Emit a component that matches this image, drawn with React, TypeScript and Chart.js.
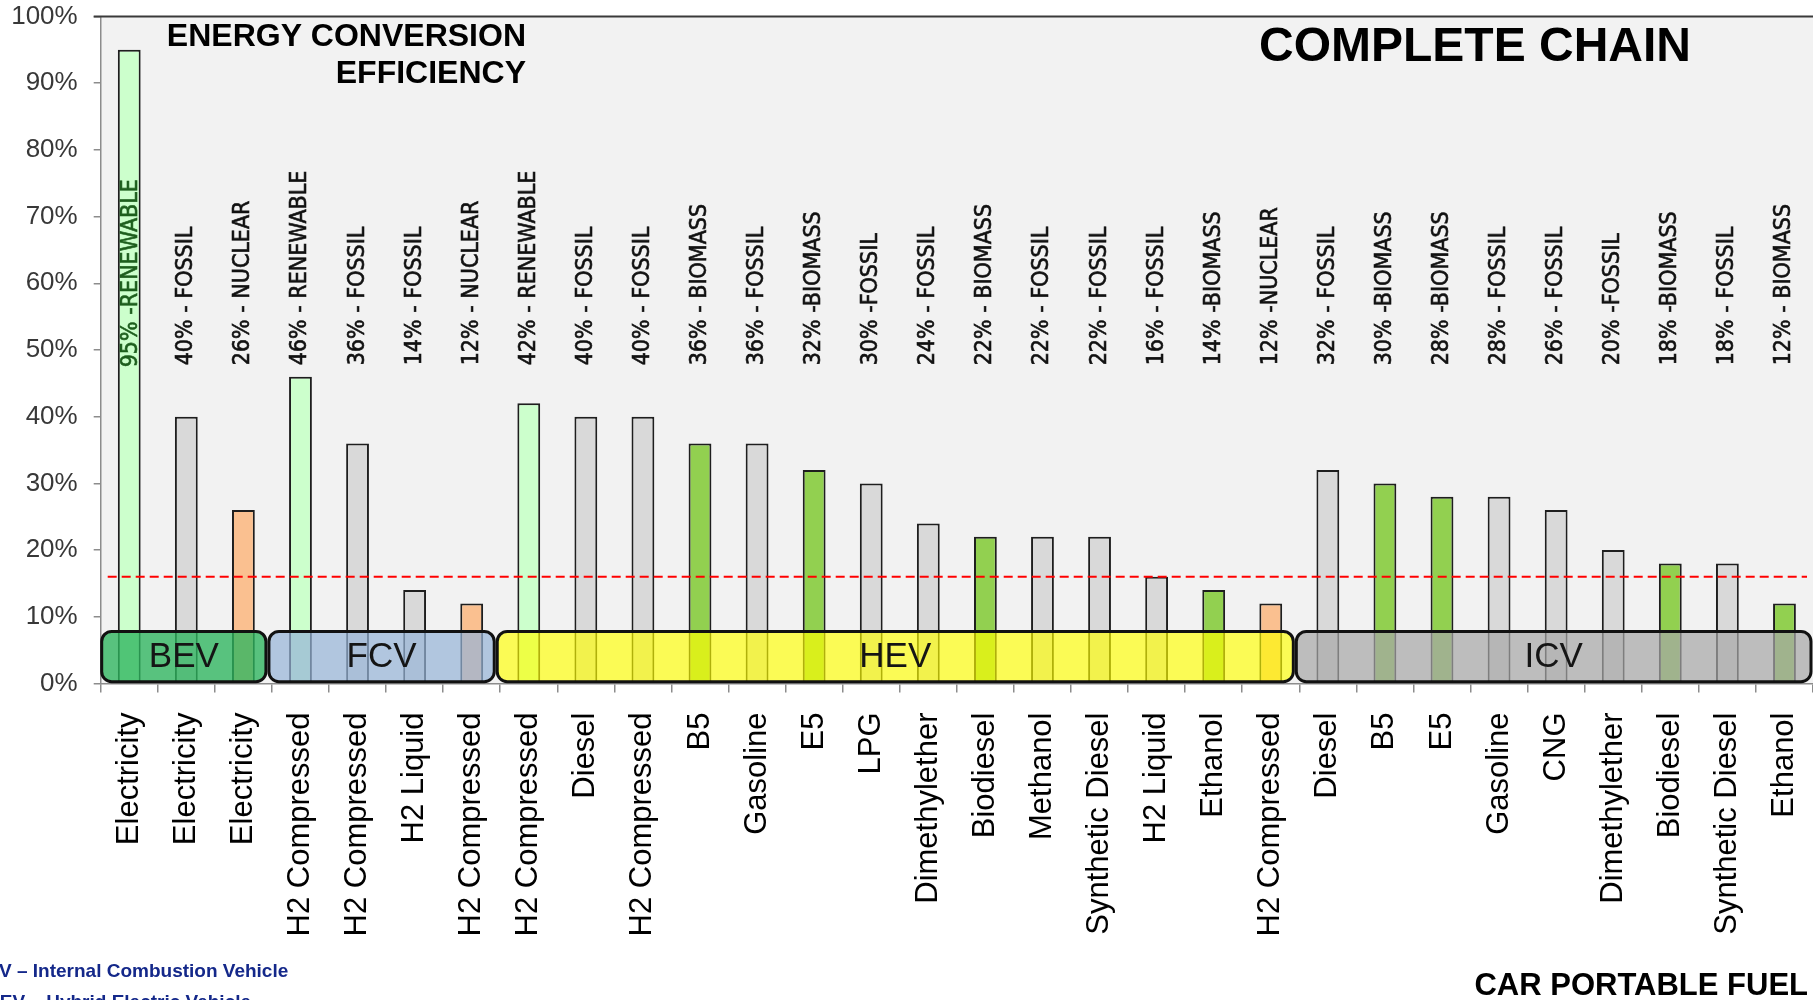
import { useEffect, useRef } from "react";
import { Chart, registerables } from "chart.js";

Chart.register(...registerables);

// Car portable fuels, grouped by vehicle type (left to right)
const fuels = [
  "Electricity", "Electricity", "Electricity",
  "H2 Compressed", "H2 Compressed", "H2 Liquid", "H2 Compressed",
  "H2 Compressed", "Diesel", "H2 Compressed", "B5", "Gasoline", "E5", "LPG",
  "Dimethylether", "Biodiesel", "Methanol", "Synthetic Diesel", "H2 Liquid", "Ethanol", "H2 Compressed",
  "Diesel", "B5", "E5", "Gasoline", "CNG", "Dimethylether", "Biodiesel", "Synthetic Diesel", "Ethanol",
];

// Complete-chain energy conversion efficiency, percent
const efficiency = [
  95, 40, 26,
  46, 36, 14, 12,
  42, 40, 40, 36, 36, 32, 30, 24, 22, 22, 22, 16, 14, 12,
  32, 30, 28, 28, 26, 20, 18, 18, 12,
];

// Primary energy source of each chain
const sources = [
  "RENEWABLE", "FOSSIL", "NUCLEAR",
  "RENEWABLE", "FOSSIL", "FOSSIL", "NUCLEAR",
  "RENEWABLE", "FOSSIL", "FOSSIL", "BIOMASS", "FOSSIL", "BIOMASS", "FOSSIL",
  "FOSSIL", "BIOMASS", "FOSSIL", "FOSSIL", "FOSSIL", "BIOMASS", "NUCLEAR",
  "FOSSIL", "BIOMASS", "BIOMASS", "FOSSIL", "FOSSIL", "FOSSIL", "BIOMASS", "FOSSIL", "BIOMASS",
];

// Separator used between the value and the source in each bar note
const noteSeparators = [
  "-", "- ", "- ",
  "- ", "- ", "- ", "- ",
  "- ", "- ", "- ", "- ", "- ", "-", "-",
  "- ", "- ", "- ", "- ", "- ", "-", "-",
  "- ", "-", "-", "- ", "- ", "-", "-", "- ", "- ",
];

// Vehicle families and how many fuels each one covers
const vehicleGroups = ["BEV", "FCV", "HEV", "ICV"];
const groupSizes = [3, 4, 14, 9];

const yTickValues = [0, 10, 20, 30, 40, 50, 60, 70, 80, 90, 100];
const referenceLevel = 16;

const sourceColors: Record<string, string> = {
  RENEWABLE: "#ccffcc",
  FOSSIL: "#d9d9d9",
  NUCLEAR: "#fac090",
  BIOMASS: "#92d050",
};

const groupFills: Record<string, string> = {
  BEV: "rgba(45,181,93,0.78)",
  FCV: "rgba(149,179,215,0.7)",
  HEV: "rgba(255,255,0,0.65)",
  ICV: "rgba(166,166,166,0.7)",
};

const SANS = '"Liberation Sans", Arial, Helvetica, sans-serif';
const NARROW = '"Liberation Sans Narrow", "Arial Narrow", "DejaVu Sans Condensed", "Liberation Sans", sans-serif';

const decorations = {
  id: "decorations",
  beforeDraw(chart: any) {
    const { ctx, chartArea: a } = chart;
    ctx.save();
    ctx.fillStyle = "#ffffff";
    ctx.fillRect(0, 0, chart.width, chart.height);
    ctx.fillStyle = "#f2f2f2";
    ctx.fillRect(a.left, a.top, chart.width - a.left, a.bottom - a.top);
    ctx.restore();
  },
  afterDatasetsDraw(chart: any) {
    const { ctx, chartArea: a } = chart;
    const xs = chart.scales.x;
    const ys = chart.scales.y;
    const step = xs.getPixelForValue(1) - xs.getPixelForValue(0);
    ctx.save();

    // reference efficiency level
    const yRef = ys.getPixelForValue(referenceLevel);
    ctx.strokeStyle = "#ff0000";
    ctx.lineWidth = 2;
    ctx.setLineDash([9, 5]);
    ctx.beginPath();
    ctx.moveTo(a.left + 7, yRef);
    ctx.lineTo(chart.width - 6, yRef);
    ctx.stroke();
    ctx.setLineDash([]);

    // vehicle family boxes
    let start = 0;
    const boxTop = ys.getPixelForValue(7.8);
    const boxBottom = ys.getPixelForValue(0.27);
    vehicleGroups.forEach((g, gi) => {
      const end = start + groupSizes[gi];
      const leftEdge = xs.getPixelForValue(start) - step / 2;
      const rightEdge = xs.getPixelForValue(end - 1) + step / 2;
      const x0 = gi === 0 ? a.left + 1 : leftEdge - 3;
      const x1 = gi === vehicleGroups.length - 1 ? chart.width - 2 : rightEdge - 6;
      ctx.beginPath();
      ctx.roundRect(x0, boxTop, x1 - x0, boxBottom - boxTop, 10);
      ctx.fillStyle = groupFills[g];
      ctx.fill();
      ctx.lineWidth = 3;
      ctx.strokeStyle = "#111111";
      ctx.stroke();
      ctx.fillStyle = "#151515";
      ctx.font = `35px ${SANS}`;
      ctx.textAlign = "center";
      ctx.textBaseline = "middle";
      ctx.fillText(g, (x0 + x1) / 2, (boxTop + boxBottom) / 2 + 1);
      start = end;
    });

    // value / source notes above the bars
    const base = ys.getPixelForValue(47.7);
    ctx.font = `23px ${NARROW}`;
    ctx.textAlign = "left";
    ctx.textBaseline = "middle";
    ctx.lineWidth = 0.6;
    efficiency.forEach((v, i) => {
      const x = xs.getPixelForValue(i);
      const note = `${v}% ${noteSeparators[i]}${sources[i]}`;
      const color = i === 0 ? "#1d5e1d" : "#111111";
      ctx.save();
      ctx.translate(i === 0 ? x + 2 : x, i === 0 ? base + 2 : base);
      ctx.rotate(-Math.PI / 2);
      ctx.fillStyle = color;
      ctx.strokeStyle = color;
      ctx.fillText(note, 0, 0);
      ctx.strokeText(note, 0, 0);
      ctx.restore();
    });
    ctx.restore();
  },
  afterDraw(chart: any) {
    const { ctx, chartArea: a } = chart;
    ctx.save();
    // upper frame line
    ctx.strokeStyle = "#3a3a3a";
    ctx.lineWidth = 2;
    ctx.beginPath();
    ctx.moveTo(a.left - 7, a.top);
    ctx.lineTo(chart.width, a.top);
    ctx.stroke();

    ctx.fillStyle = "#000000";
    ctx.textBaseline = "middle";
    ctx.font = `bold 32px ${SANS}`;
    ctx.textAlign = "right";
    ctx.fillText("ENERGY CONVERSION", 526, 37);
    ctx.fillText("EFFICIENCY", 526, 74);

    ctx.font = `bold 48px ${SANS}`;
    ctx.textAlign = "center";
    ctx.fillText("COMPLETE CHAIN", 1475, 48);

    ctx.font = `bold 31px ${SANS}`;
    ctx.textAlign = "right";
    ctx.textBaseline = "alphabetic";
    ctx.fillText("CAR PORTABLE FUEL", 1808, 995);

    ctx.fillStyle = "#14288a";
    ctx.font = `bold 19px ${SANS}`;
    ctx.textAlign = "left";
    ctx.fillText("ICV \u2013 Internal Combustion Vehicle", -20, 977);
    ctx.fillText("HEV \u2013 Hybrid Electric Vehicle", -14, 1008);
    ctx.restore();
  },
};

export default function App() {
  const canvasRef = useRef<HTMLCanvasElement>(null);

  useEffect(() => {
    const canvas = canvasRef.current;
    if (!canvas) return;
    const chart = new Chart(canvas, {
      type: "bar",
      data: {
        labels: fuels,
        datasets: [
          {
            data: efficiency,
            backgroundColor: sources.map((s) => sourceColors[s]),
            borderColor: "#1e1e1e",
            borderWidth: 2,
            barPercentage: 0.4,
            categoryPercentage: 1.0,
          },
        ],
      },
      options: {
        responsive: false,
        animation: false,
        devicePixelRatio: 1,
        layout: { padding: { top: 16.5, right: 0, left: 0, bottom: 0 } },
        plugins: {
          legend: { display: false },
          tooltip: { enabled: false },
          title: { display: false },
        },
        scales: {
          x: {
            grid: {
              drawOnChartArea: false,
              drawTicks: true,
              tickLength: 9,
              color: "#8c8c8c",
              lineWidth: 1.5,
            },
            border: { display: true, color: "#8c8c8c", width: 1.5 },
            ticks: {
              autoSkip: false,
              maxRotation: 90,
              minRotation: 90,
              padding: 20,
              color: "#000000",
              font: { family: SANS, size: 31 },
            },
            afterFit(scale: any) {
              scale.height = 316.5;
              scale.paddingLeft = 0;
              scale.paddingRight = 0;
            },
          },
          y: {
            min: 0,
            max: 100,
            afterBuildTicks(scale: any) {
              scale.ticks = yTickValues.map((v) => ({ value: v }));
            },
            grid: {
              drawOnChartArea: false,
              drawTicks: true,
              tickLength: 7,
              color: "#8c8c8c",
              lineWidth: 1.5,
            },
            border: { display: true, color: "#8c8c8c", width: 1.5 },
            ticks: {
              padding: 16,
              color: "#383838",
              font: { family: SANS, size: 26 },
              callback: (v: any) => `${v}%`,
            },
            afterFit(scale: any) {
              scale.width = 100.7;
              scale.paddingTop = 0;
              scale.paddingBottom = 0;
            },
          },
        },
      },
      plugins: [decorations],
    });
    return () => chart.destroy();
  }, []);

  return (
    <div style={{ position: "fixed", left: 0, top: 0, width: 1813, height: 1000, background: "#ffffff" }}>
      <canvas ref={canvasRef} width={1813} height={1000} style={{ display: "block", width: 1813, height: 1000 }} />
    </div>
  );
}
